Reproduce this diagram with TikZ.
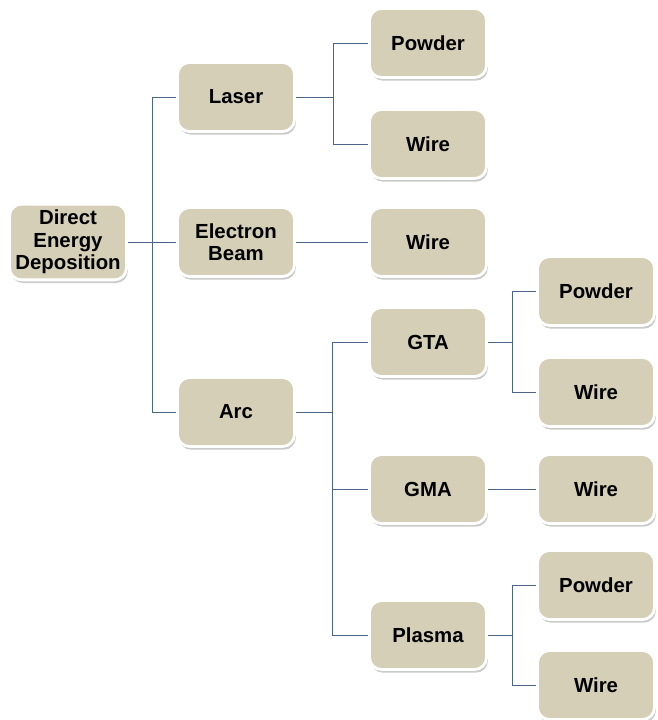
\documentclass[tikz,border=0pt]{standalone}
\usepackage{fontspec}
\setmainfont{Liberation Sans}
\usetikzlibrary{shadows}
\definecolor{sand}{HTML}{D5CFB8}
\definecolor{linie}{HTML}{4A6588}
\definecolor{schatten}{HTML}{7A7A7A}
\tikzset{
  box/.style={rectangle,rounded corners=0.24cm,fill=sand,draw=white,line width=1.6pt,
    minimum width=2.34cm,minimum height=1.38cm,align=center,
    font=\fontsize{11.6}{12.8}\selectfont\bfseries,
    drop shadow={shadow xshift=0.8pt,shadow yshift=-1.8pt,opacity=0.4,fill=schatten}},
  link/.style={linie,line width=0.5pt},
}
\begin{document}
\begin{tikzpicture}[x=0.02cm,y=-0.02cm]
  \useasboundingbox (0,0) rectangle (657,720);
  % Baum von links nach rechts
  \node[box] (ded) at (68,242) {Direct\\Energy\\Deposition};
  \node[box] (laser) at (236,97) {Laser};
  \node[box] (eb) at (236,242) {Electron\\Beam};
  \node[box] (arc) at (236,412) {Arc};
  \node[box] (lpowder) at (428,43) {Powder};
  \node[box] (lwire) at (428,144) {Wire};
  \node[box] (ebwire) at (428,242) {Wire};
  \node[box] (gta) at (428,342) {GTA};
  \node[box] (gma) at (428,489) {GMA};
  \node[box] (plasma) at (428,635) {Plasma};
  \node[box] (gpowder) at (596,291) {Powder};
  \node[box] (gwire) at (596,392) {Wire};
  \node[box] (mwire) at (596,489) {Wire};
  \node[box] (ppowder) at (596,585) {Powder};
  \node[box] (pwire) at (596,685) {Wire};
  % Verzweigungen
  \coordinate (b0) at (152,242);
  \coordinate (b1) at (333,97);
  \coordinate (b2) at (332,412);
  \coordinate (b3) at (512,342);
  \coordinate (b4) at (512,635);
  \draw[link] (ded.east) -- (b0);
  \draw[link] (b0) |- (laser.west);
  \draw[link] (b0) -- (eb.west);
  \draw[link] (b0) |- (arc.west);
  \draw[link] (laser.east) -- (b1);
  \draw[link] (b1) |- (lpowder.west);
  \draw[link] (b1) |- (lwire.west);
  \draw[link] (eb.east) -- (ebwire.west);
  \draw[link] (arc.east) -- (b2);
  \draw[link] (b2) |- (gta.west);
  \draw[link] (b2) |- (gma.west);
  \draw[link] (b2) |- (plasma.west);
  \draw[link] (gta.east) -- (b3);
  \draw[link] (b3) |- (gpowder.west);
  \draw[link] (b3) |- (gwire.west);
  \draw[link] (gma.east) -- (mwire.west);
  \draw[link] (plasma.east) -- (b4);
  \draw[link] (b4) |- (ppowder.west);
  \draw[link] (b4) |- (pwire.west);
\end{tikzpicture}
\end{document}
